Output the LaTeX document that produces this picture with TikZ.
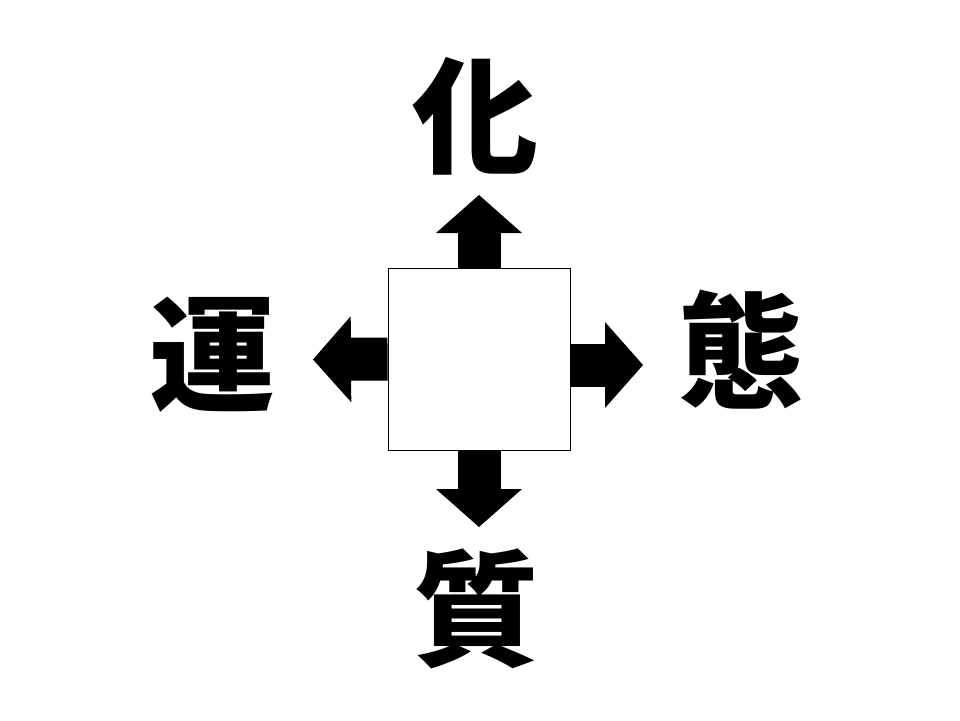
\documentclass[tikz,border=0pt]{standalone}
\usepackage{fontspec}
\usetikzlibrary{arrows.meta}
\usetikzlibrary{positioning}
\newfontfamily\cjk{Noto Sans CJK JP}
\tikzset{
  kanji/.style={inner sep=0pt, font=\cjk\bfseries\fontsize{126pt}{126pt}\selectfont},
  blockarrow/.style={line width=43pt, -{Triangle[length=38pt,width=86pt,line width=0pt]}}
}

\begin{document}
\begin{tikzpicture}[x=1pt, y=-1pt]
\useasboundingbox (0,0) rectangle (960,720);
\node[draw=black, line width=0.8pt, minimum size=182pt, inner sep=0pt] (box) at (479,359) {};
\node[kanji] (top) at (475,116) {化};
\node[kanji] (left) at (212,355) {運};
\node[kanji] (right) at (741,350) {態};
\node[kanji] (bottom) at (476,609) {質};
\coordinate (upend) at (479,195);
\coordinate (leftend) at (313,359.5);
\coordinate (rightend) at (643,365);
\coordinate (downend) at (479,527);
\draw[blockarrow] (box.north) -- (upend);
\draw[blockarrow] (box.west) -- (leftend);
\draw[blockarrow] (box.east |- rightend) -- (rightend);
\draw[blockarrow] (box.south) -- (downend);
\end{tikzpicture}
\end{document}
